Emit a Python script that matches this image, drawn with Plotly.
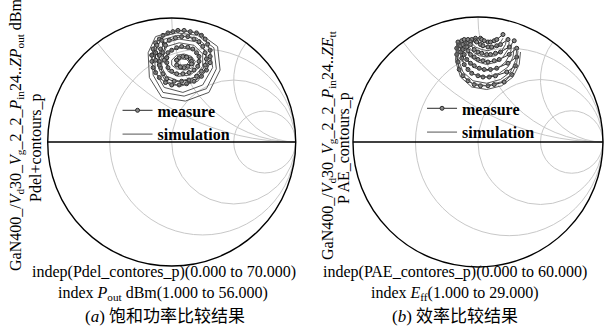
import numpy as np
import plotly.graph_objects as go

# ---- Load-pull contours, given as reflection coefficients (re, im) ----
# (a) delivered power: simulated closed contours
pout_sim = [
    [(0.05,0.65),(0.08,0.67),(0.12,0.665),(0.14,0.645),(0.12,0.625),(0.08,0.62),(0.05,0.63),(0.05,0.65)],
    [(0.00,0.66),(0.04,0.70),(0.10,0.71),(0.16,0.69),(0.19,0.65),(0.17,0.60),(0.11,0.58),(0.04,0.59),(0.00,0.62),(0.00,0.66)],
    [(-0.05,0.67),(-0.01,0.74),(0.08,0.76),(0.18,0.74),(0.23,0.68),(0.22,0.60),(0.15,0.54),(0.05,0.53),(-0.03,0.57),(-0.05,0.67)],
    [(-0.08,0.68),(-0.04,0.77),(0.06,0.80),(0.18,0.78),(0.25,0.71),(0.25,0.61),(0.18,0.52),(0.06,0.49),(-0.04,0.53),(-0.08,0.60),(-0.08,0.68)],
    [(-0.11,0.69),(-0.06,0.80),(0.06,0.83),(0.19,0.81),(0.28,0.73),(0.29,0.60),(0.21,0.49),(0.07,0.45),(-0.05,0.49),(-0.10,0.58),(-0.11,0.69)],
    [(-0.14,0.70),(-0.09,0.82),(0.05,0.86),(0.20,0.84),(0.31,0.75),(0.33,0.60),(0.25,0.46),(0.09,0.40),(-0.06,0.44),(-0.13,0.56),(-0.14,0.70)],
    [(-0.16,0.71),(-0.11,0.84),(0.04,0.88),(0.21,0.86),(0.34,0.76),(0.36,0.59),(0.28,0.43),(0.10,0.37),(-0.07,0.40),(-0.15,0.54),(-0.16,0.71)],
    [(-0.19,0.72),(-0.13,0.85),(0.03,0.90),(0.22,0.88),(0.37,0.77),(0.39,0.58),(0.30,0.40),(0.11,0.33),(-0.08,0.36),(-0.18,0.52),(-0.19,0.72)],
]
# (a) delivered power: measured contours
pout_meas = [
    [(0.04,0.66),(0.06,0.68),(0.09,0.69),(0.12,0.685),(0.15,0.67),(0.16,0.65),(0.16,0.63),(0.13,0.61),(0.10,0.60),(0.07,0.605),(0.04,0.62),(0.04,0.66)],
    [(-0.04,0.68),(-0.03,0.72),(0.00,0.74),(0.04,0.76),(0.08,0.77),(0.13,0.765),(0.17,0.75),(0.20,0.72),(0.22,0.69),(0.22,0.65),(0.21,0.61),(0.18,0.58),(0.14,0.56),(0.09,0.55),(0.04,0.55),(0.00,0.57),(-0.03,0.60),(-0.04,0.64),(-0.04,0.68)],
    [(-0.10,0.70),(-0.09,0.75),(-0.06,0.79),(-0.02,0.82),(0.03,0.84),(0.08,0.85),(0.13,0.85),(0.18,0.83),(0.22,0.81),(0.25,0.77),(0.27,0.72),(0.28,0.67),(0.27,0.62),(0.24,0.57),(0.20,0.53),(0.14,0.50),(0.08,0.49),(0.02,0.49),(-0.04,0.51),(-0.07,0.55),(-0.09,0.60),(-0.10,0.65),(-0.10,0.70)],
    [(-0.16,0.70),(-0.15,0.75),(-0.13,0.80),(-0.10,0.83),(-0.07,0.86),(-0.03,0.88),(0.01,0.89),(0.05,0.90),(0.10,0.90),(0.15,0.89),(0.20,0.88),(0.24,0.86),(0.27,0.83),(0.29,0.79),(0.31,0.74),(0.31,0.69),(0.31,0.64),(0.28,0.58),(0.24,0.53),(0.18,0.49),(0.12,0.47),(0.06,0.46),(0.00,0.46),(-0.05,0.48),(-0.10,0.52),(-0.13,0.56),(-0.15,0.60),(-0.16,0.65),(-0.16,0.70)],
    [(-0.13,0.72),(-0.12,0.78),(-0.08,0.82),(-0.05,0.78),(-0.07,0.72),(-0.06,0.66),(-0.10,0.62),(-0.13,0.66),(-0.13,0.72)],
]
# (b) efficiency: simulated open contours
pae_sim = [
    [(-0.17,0.80),(-0.18,0.65),(-0.14,0.52),(-0.05,0.44),(0.07,0.42),(0.19,0.45),(0.28,0.52),(0.33,0.62),(0.34,0.72)],
    [(-0.16,0.80),(-0.17,0.66),(-0.13,0.54),(-0.05,0.47),(0.07,0.45),(0.18,0.48),(0.27,0.54),(0.31,0.63),(0.32,0.73)],
    [(-0.15,0.80),(-0.16,0.67),(-0.12,0.56),(-0.04,0.49),(0.07,0.47),(0.18,0.50),(0.26,0.56),(0.30,0.65),(0.31,0.74)],
    [(-0.13,0.80),(-0.14,0.69),(-0.10,0.60),(-0.03,0.54),(0.07,0.52),(0.17,0.55),(0.24,0.60),(0.28,0.68),(0.29,0.76)],
    [(-0.11,0.81),(-0.12,0.72),(-0.08,0.64),(-0.02,0.59),(0.07,0.57),(0.16,0.59),(0.22,0.64),(0.26,0.71),(0.27,0.78)],
    [(-0.09,0.81),(-0.10,0.74),(-0.06,0.68),(0.00,0.64),(0.07,0.62),(0.15,0.64),(0.20,0.68),(0.24,0.74),(0.25,0.80)],
    [(-0.07,0.82),(-0.08,0.77),(-0.04,0.72),(0.01,0.69),(0.07,0.68),(0.14,0.69),(0.19,0.73),(0.22,0.78),(0.23,0.83)],
    [(-0.05,0.82),(-0.05,0.79),(-0.02,0.76),(0.03,0.74),(0.08,0.73),(0.13,0.75),(0.17,0.78),(0.20,0.83)],
]
# (b) efficiency: measured open contours
pae_meas = [
    [(-0.16,0.80),(-0.17,0.75),(-0.17,0.70),(-0.16,0.64),(-0.15,0.58),(-0.12,0.53),(-0.08,0.49),(-0.03,0.46),(0.02,0.45),(0.08,0.45),(0.13,0.46),(0.21,0.48),(0.27,0.54)],
    [(-0.13,0.81),(-0.14,0.77),(-0.14,0.72),(-0.13,0.67),(-0.11,0.62),(-0.08,0.58),(-0.05,0.55),(0.00,0.53),(0.04,0.52),(0.09,0.52),(0.14,0.53),(0.23,0.56),(0.30,0.61)],
    [(-0.11,0.82),(-0.12,0.78),(-0.12,0.74),(-0.11,0.70),(-0.09,0.66),(-0.06,0.63),(-0.03,0.61),(0.01,0.59),(0.05,0.58),(0.10,0.58),(0.15,0.59),(0.24,0.63),(0.31,0.68)],
    [(-0.08,0.82),(-0.09,0.79),(-0.09,0.76),(-0.08,0.73),(-0.06,0.70),(-0.03,0.68),(0.00,0.66),(0.04,0.65),(0.08,0.64),(0.13,0.65),(0.17,0.66),(0.25,0.70),(0.31,0.75)],
    [(-0.05,0.82),(-0.06,0.80),(-0.06,0.78),(-0.03,0.74),(0.00,0.72),(0.03,0.71),(0.07,0.70),(0.10,0.70),(0.14,0.71),(0.18,0.72),(0.25,0.76),(0.29,0.81)],
    [(-0.02,0.83),(-0.02,0.81),(-0.01,0.80),(0.02,0.78),(0.04,0.77),(0.08,0.76),(0.11,0.76),(0.15,0.77),(0.18,0.78),(0.24,0.82)],
    [(0.02,0.83),(0.03,0.82),(0.05,0.81),(0.08,0.80),(0.10,0.80),(0.13,0.81),(0.15,0.82),(0.20,0.86)],
]

# Smith chart grid values
r_grid = [1/3, 1, 3]
x_grid = [0.5, 1, 2]

SERIF = "Liberation Serif"
SIM_COLOR = "#555555"
MEAS_COLOR = "#2a2a2a"


def gamma_to_z(points):
    g = np.array([complex(a, b) for a, b in points])
    z = (1 + g) / (1 - g)
    return z.real, z.imag


fig = go.Figure()


def add_contours(sim, meas, subplot, legend):
    for i, pts in enumerate(meas):
        r, x = gamma_to_z(pts)
        fig.add_trace(go.Scattersmith(
            real=r, imag=x, subplot=subplot, mode="lines+markers",
            line=dict(color=MEAS_COLOR, width=1),
            marker=dict(symbol="circle", size=4, color="#8a8a8a",
                        line=dict(color=MEAS_COLOR, width=1)),
            name="measure", legend=legend, legendgroup=legend,
            showlegend=(i == 0)))
    for i, pts in enumerate(sim):
        r, x = gamma_to_z(pts)
        fig.add_trace(go.Scattersmith(
            real=r, imag=x, subplot=subplot, mode="lines",
            line=dict(color=SIM_COLOR, width=1),
            name="simulation", legend=legend, legendgroup=legend,
            showlegend=(i == 0)))


add_contours(pout_sim, pout_meas, "smith", "legend")
add_contours(pae_sim, pae_meas, "smith2", "legend2")

axis_common = dict(showticklabels=False, gridcolor="#c8c8c8", gridwidth=1,
                   linecolor="black", linewidth=1.4, ticks="")
smith_real = dict(tickvals=r_grid, **axis_common)
smith_imag = dict(tickvals=x_grid, **axis_common)

legend_style = dict(font=dict(family=SERIF, size=16, color="black", weight="bold"),
                    bgcolor="rgba(0,0,0,0)", itemwidth=30, tracegroupgap=0,
                    xanchor="left", yanchor="top")

fig.update_layout(
    width=609, height=336,
    margin=dict(l=0, r=0, t=0, b=0),
    paper_bgcolor="white",
    showlegend=True,
    smith=dict(domain=dict(x=[0.0783, 0.4856], y=[0.2083, 0.9464]),
               bgcolor="white", realaxis=smith_real, imaginaryaxis=smith_imag),
    smith2=dict(domain=dict(x=[0.5796, 0.9901], y=[0.2054, 0.9494]),
                bgcolor="white", realaxis=smith_real, imaginaryaxis=smith_imag),
    legend=dict(x=0.193, y=0.722, **legend_style),
    legend2=dict(x=0.693, y=0.728, **legend_style),
)

texts = [
    # rotated axis titles
    dict(x=16, y=135, angle=-90, size=16,
         text="GaN400_/<i>V</i><sub>d</sub>30_<i>V</i><sub>g</sub>_2_2_<i>P</i><sub>in</sub>24..<i>ZP</i><sub>out</sub> dBm"),
    dict(x=36, y=148, angle=-90, size=16, text="Pdel+contours_p"),
    dict(x=328, y=145, angle=-90, size=16,
         text="GaN400_/<i>V</i><sub>d</sub>30_<i>V</i><sub>g</sub>_2_2_<i>P</i><sub>in</sub>24..<i>ZE</i><sub>tt</sub>"),
    dict(x=344, y=148, angle=-90, size=16, text="P AE_contours_p"),
    # bottom labels
    dict(x=164, y=272, angle=0, size=16, text="indep(Pdel_contores_p)(0.000 to 70.000)"),
    dict(x=163, y=293, angle=0, size=16, text="index <i>P</i><sub>out</sub> dBm(1.000 to 56.000)"),
    dict(x=455, y=272, angle=0, size=16, text="indep(PAE_contores_p)(0.000 to 60.000)"),
    dict(x=455, y=293, angle=0, size=16, text="index <i>E</i><sub>ff</sub>(1.000 to 29.000)"),
]
for t in texts:
    fig.add_annotation(x=t["x"] / 609, y=1 - t["y"] / 336, xref="paper", yref="paper",
                       text=t["text"], textangle=t["angle"], showarrow=False,
                       xanchor="center", yanchor="middle",
                       font=dict(family=SERIF, size=t["size"], color="black"))

captions = [
    (165, 316, "(<i>a</i>) 饱和功率比较结果"),
    (455, 316, "(<i>b</i>) 效率比较结果"),
]
for cx, cy, txt in captions:
    fig.add_annotation(x=cx / 609, y=1 - cy / 336, xref="paper", yref="paper",
                       text=txt, showarrow=False, xanchor="center", yanchor="middle",
                       font=dict(family="Liberation Serif, Noto Sans CJK SC", size=17, color="black"))

fig.write_html("out.html")
